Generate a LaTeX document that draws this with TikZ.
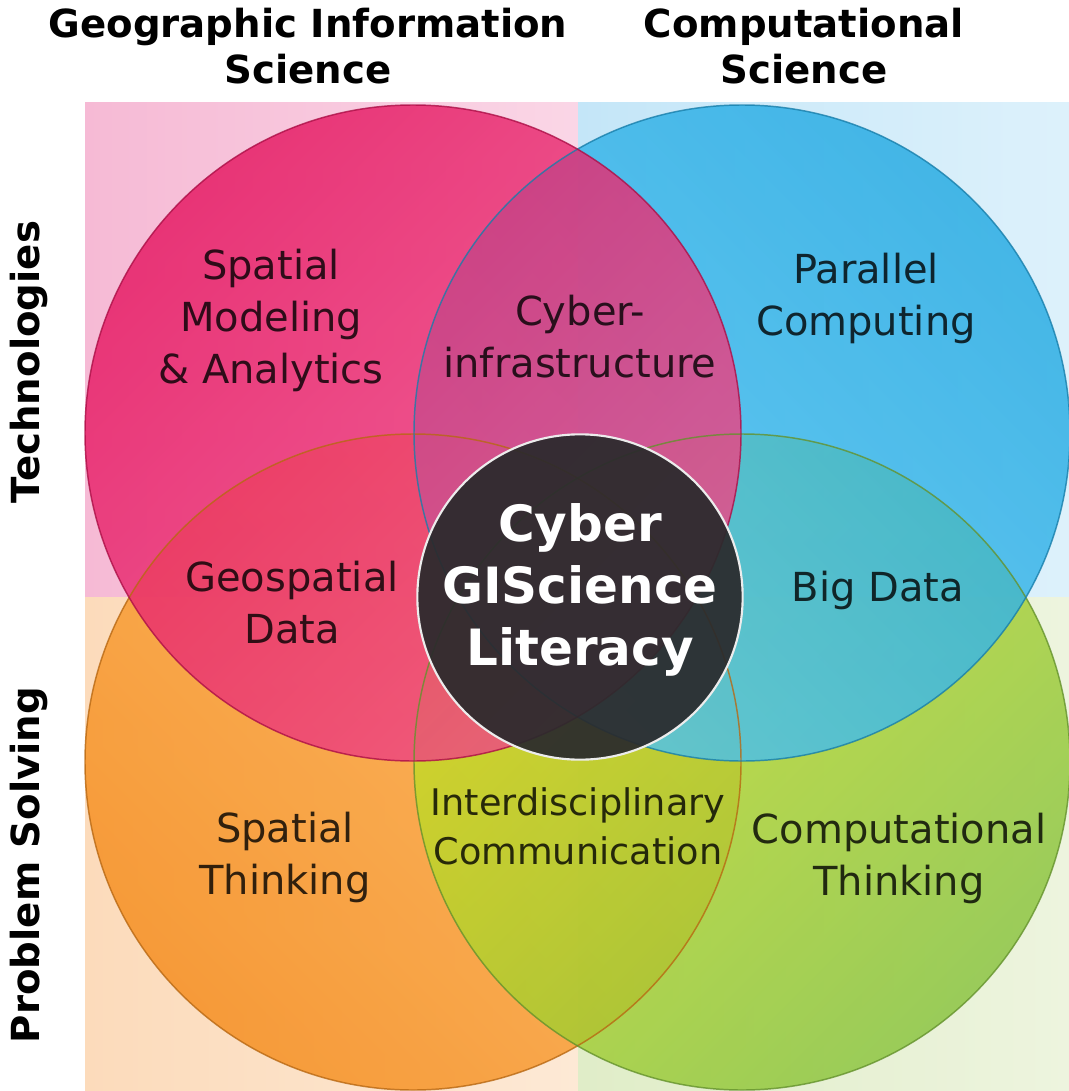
\documentclass[tikz,border=0pt]{standalone}
\usepackage{fontspec}
\setmainfont{DejaVu Sans}
\usetikzlibrary{positioning}
\definecolor{GisPink}{HTML}{E5125E}
\definecolor{GisPinkLight}{HTML}{EF4A88}
\definecolor{CompBlue}{HTML}{1FA8E2}
\definecolor{CompBlueLight}{HTML}{4FC4F2}
\definecolor{SolveOrange}{HTML}{F58A18}
\definecolor{SolveOrangeLight}{HTML}{FBAE48}
\definecolor{ThinkGreen}{HTML}{86C23A}
\definecolor{ThinkGreenLight}{HTML}{CDDF22}
\definecolor{CoreDark}{HTML}{2A2A2C}
\definecolor{QuadPink}{HTML}{F6BAD5}
\definecolor{QuadPinkPale}{HTML}{FAD6E6}
\definecolor{QuadBlue}{HTML}{C4E6F8}
\definecolor{QuadBluePale}{HTML}{DDF1FB}
\definecolor{QuadOrange}{HTML}{FCDBBB}
\definecolor{QuadOrangePale}{HTML}{FDE9D5}
\definecolor{QuadGreen}{HTML}{E0EDC8}
\definecolor{QuadGreenPale}{HTML}{EDF4DE}

\begin{document}
\begin{tikzpicture}[
	x=0.75pt, y=-0.75pt,
	ring/.style={fill opacity=0.8},
	rim/.style={line width=1.1pt, draw opacity=0.8},
	core/.style={circle, draw=white!85!gray, line width=1.6pt, fill=CoreDark, fill opacity=0.93, minimum size=244pt, inner sep=0pt},
	coretext/.style={text=white, font=\fontsize{37.5}{46.5}\selectfont\bfseries, align=center},
	label/.style={text=black, text opacity=0.8, font=\fontsize{30}{39}\selectfont, align=center},
	head/.style={font=\fontsize{29}{34}\selectfont\bfseries, align=center}
]
\useasboundingbox (0,0) rectangle (1069,1091);
\fill[white] (0,0) rectangle (1069,1091);

% quadrant backgrounds
\shade[left color=QuadPink, right color=QuadPinkPale] (85,103) rectangle (578,597);
\shade[left color=QuadBlue, right color=QuadBluePale] (578,103) rectangle (1069,597);
\shade[left color=QuadOrange, right color=QuadOrangePale] (85,597) rectangle (578,1091);
\shade[left color=QuadGreen, right color=QuadGreenPale] (578,597) rectangle (1069,1091);

% the four big circles
\shade[ring, top color=SolveOrange, bottom color=SolveOrangeLight, shading angle=135] (413,762) circle [radius=246pt];
\shade[ring, top color=ThinkGreen, bottom color=ThinkGreenLight, shading angle=-135] (742,762) circle [radius=246pt];
\shade[ring, top color=CompBlue, bottom color=CompBlueLight, shading angle=-45] (742,433) circle [radius=246pt];
\shade[ring, top color=GisPink, bottom color=GisPinkLight, shading angle=45] (413,433) circle [radius=246pt];

\draw[rim, SolveOrange!75!black] (413,762) circle [radius=246pt];
\draw[rim, ThinkGreen!75!black] (742,762) circle [radius=246pt];
\draw[rim, CompBlue!75!black] (742,433) circle [radius=246pt];
\draw[rim, GisPink!75!black] (413,433) circle [radius=246pt];

% headings
\node[head] (gis) at (308,46) {Geographic Information\\Science};
\node[head] (comp) at (804,46) {Computational\\Science};
\node[head, rotate=90] (tech) at (29,362) {Technologies};
\node[head, rotate=90] (solve) at (29,865) {Problem Solving};

% region labels
\node[label] (spatmod) at (271,320) {Spatial\\Modeling\\\& Analytics};
\node[label] (cyberinf) at (580,337) {Cyber-\\infrastructure};
\node[label] (parallel) at (866,298) {Parallel\\Computing};
\node[label] (geodata) at (292,603) {Geospatial\\Data};
\node[label] (bigdata) at (878,590) {Big Data};
\node[label] (spatthink) at (285,857) {Spatial\\Thinking};
\node[label, font=\fontsize{27.5}{37}\selectfont] (interdisc) at (578,826) {Interdisciplinary\\Communication};
\node[label] (compthink) at (899,858) {Computational\\Thinking};

% centre
\node[core] (core) at (580,597) {};
\node[coretext] (coretitle) at (580,590) {Cyber\\GIScience\\Literacy};
\end{tikzpicture}
\end{document}
